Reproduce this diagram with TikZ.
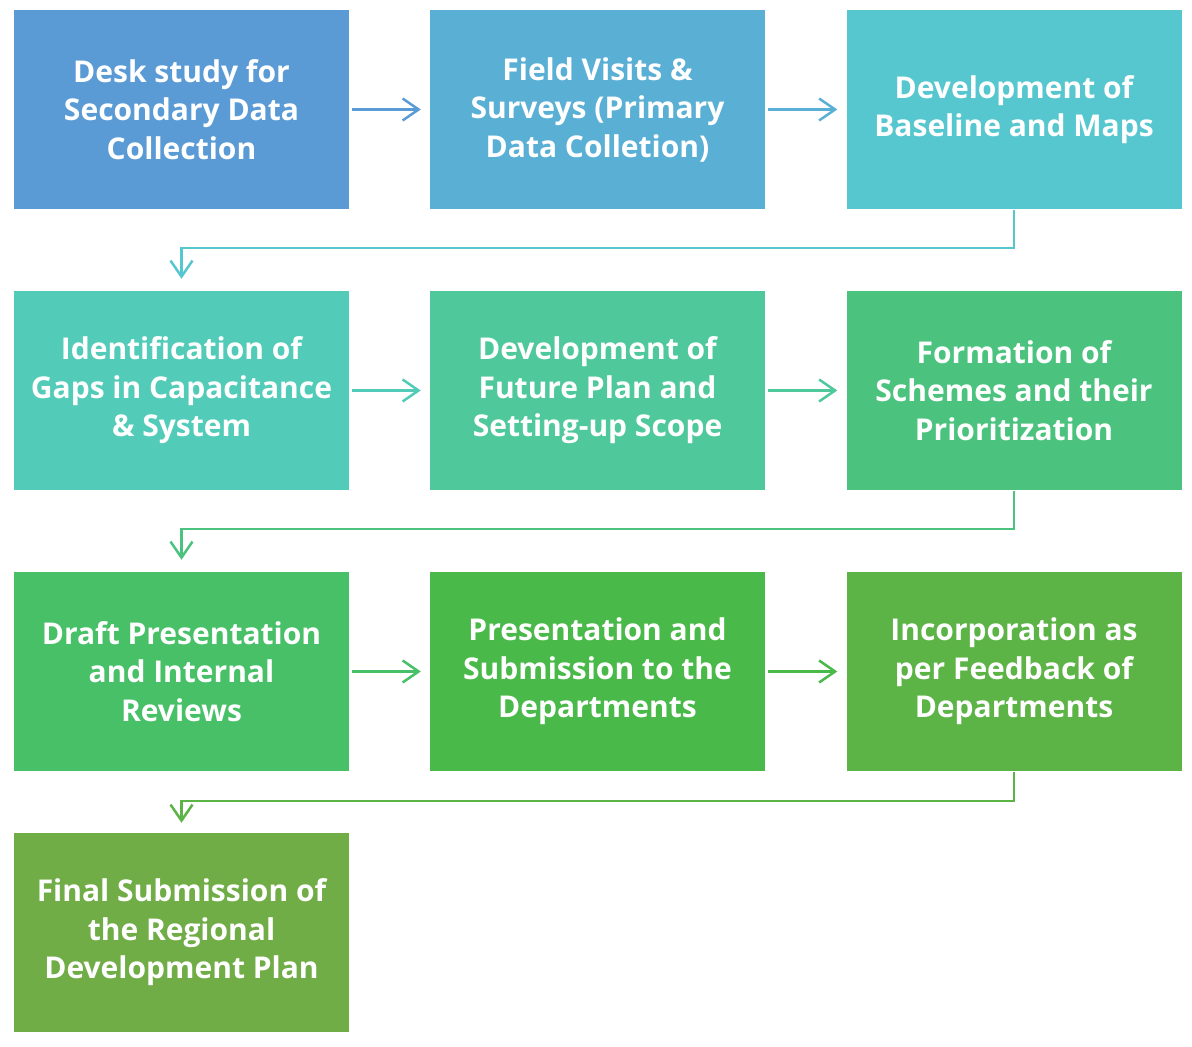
\documentclass[tikz,border=0pt]{standalone}
\usepackage{fontspec}
\setmainfont{Open Sans}
\usepackage{tikz}
\usetikzlibrary{arrows.meta, calc, positioning}

\definecolor{cA}{HTML}{5B9BD5}
\definecolor{cB}{HTML}{5AAFD4}
\definecolor{cC}{HTML}{56C7CF}
\definecolor{cD}{HTML}{52CCB8}
\definecolor{cE}{HTML}{4FC99C}
\definecolor{cF}{HTML}{4BC37F}
\definecolor{cG}{HTML}{47C067}
\definecolor{cH}{HTML}{49B949}
\definecolor{cI}{HTML}{5CB346}
\definecolor{cJ}{HTML}{71AD47}

\tikzset{
  stage/.style={fill=#1, text=white, minimum width=335pt, minimum height=199pt, inner sep=0pt, align=center,
    font=\fontsize{30}{38.5}\selectfont\bfseries},
  link/.style={draw=#1, line width=2.5pt, -{Straight Barb[length=16pt,width=22pt]}}
}

\begin{document}
\begin{tikzpicture}[x=1pt,y=1pt]
	\useasboundingbox (0,0) rectangle (1192,1047);
	
	\node(desk)  [stage=cA] at (181.5,937.5)  {Desk study for\\Secondary Data\\Collection};
	\node(field) [stage=cB] at (597.5,937.5)  {Field Visits \&\\Surveys (Primary\\Data Colletion)};
	\node(base)  [stage=cC] at (1014,937.5)   {Development of\\Baseline and Maps};
	
	\node(gaps)   [stage=cD] at (181.5,656.5) {Identification of\\Gaps in Capacitance\\\& System};
	\node(future) [stage=cE] at (597.5,656.5) {Development of\\Future Plan and\\Setting-up Scope};
	\node(scheme) [stage=cF] at (1014,656.5)  {Formation of\\Schemes and their\\Prioritization};
	
	\node(draft)  [stage=cG] at (181.5,375.5) {Draft Presentation\\and Internal\\Reviews};
	\node(submit) [stage=cH] at (597.5,375.5) {Presentation and\\Submission to the\\Departments};
	\node(feed)   [stage=cI] at (1014,375.5)  {Incorporation as\\per Feedback of\\Departments};
	
	\node(final)  [stage=cJ] at (181.5,114.5) {Final Submission of\\the Regional\\Development Plan};
	
	\draw[link=cA, shorten <=3pt, shorten >=9pt] (desk) -- (field);
	\draw[link=cB, shorten <=3pt, shorten >=9pt] (field) -- (base);
	\draw[link=cC, shorten <=1pt, shorten >=12pt] (base.south) -- ++(0,-39) -| (gaps.north);
	
	\draw[link=cD, shorten <=3pt, shorten >=9pt] (gaps) -- (future);
	\draw[link=cE, shorten <=3pt, shorten >=9pt] (future) -- (scheme);
	\draw[link=cF, shorten <=1pt, shorten >=12pt] (scheme.south) -- ++(0,-39) -| (draft.north);
	
	\draw[link=cG, shorten <=3pt, shorten >=9pt] (draft) -- (submit);
	\draw[link=cH, shorten <=3pt, shorten >=9pt] (submit) -- (feed);
	\draw[link=cI, shorten <=1pt, shorten >=10pt] (feed.south) -- ++(0,-30) -| (final.north);
	
\end{tikzpicture}
\end{document}
